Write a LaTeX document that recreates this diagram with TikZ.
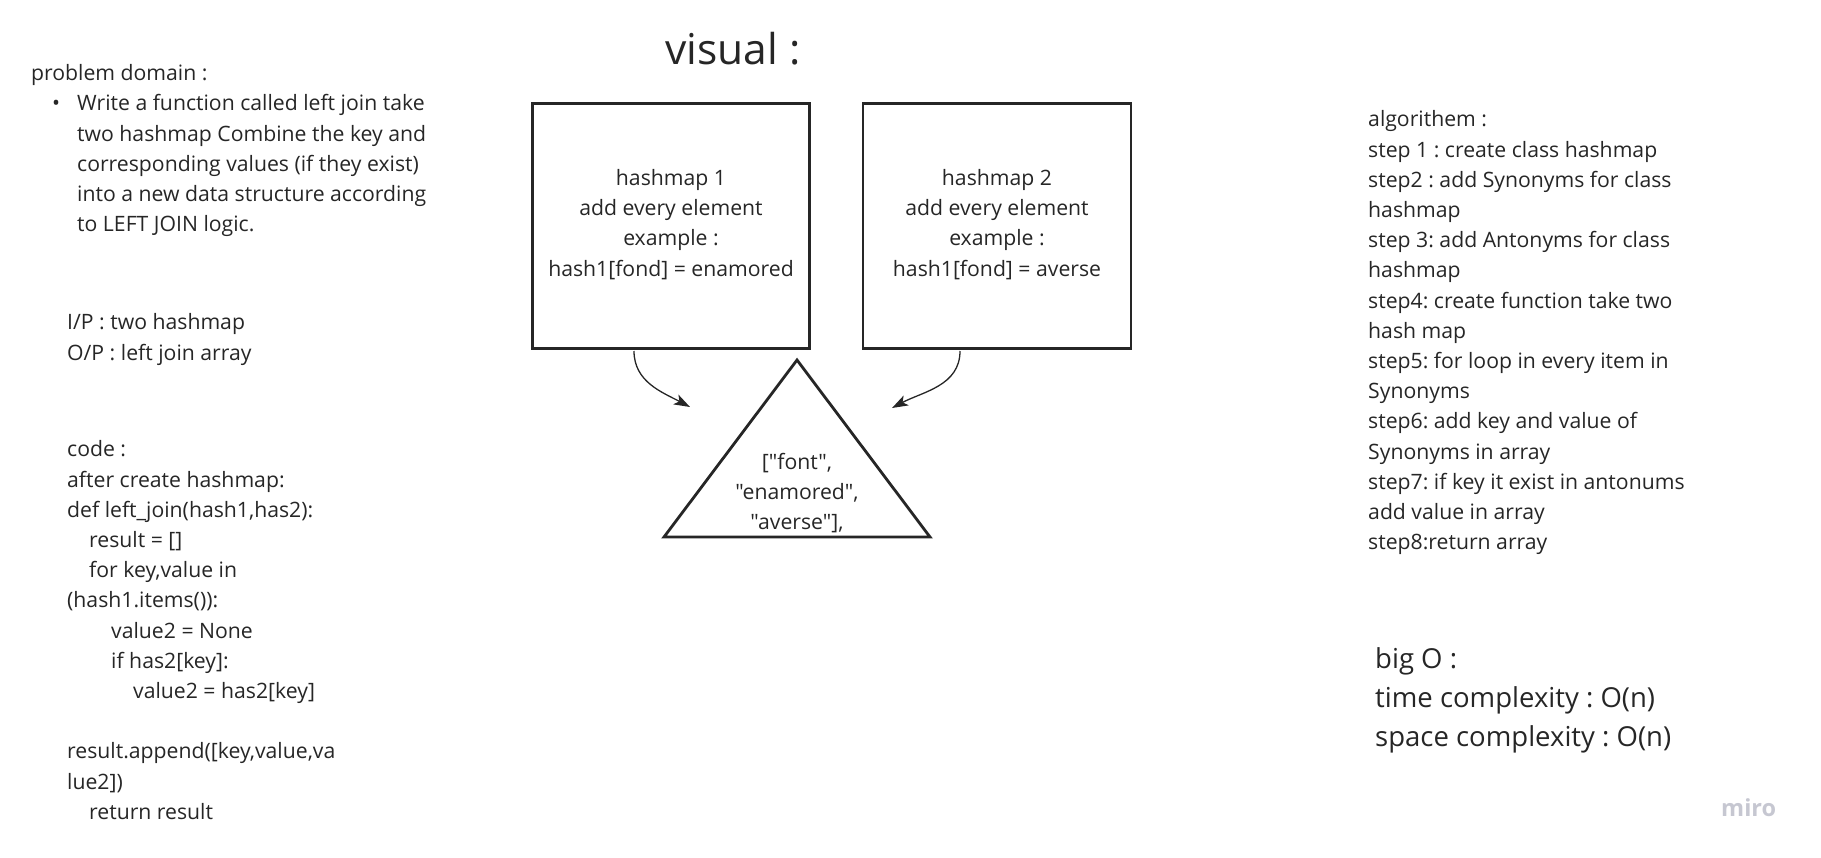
\documentclass[tikz,border=0pt]{standalone}
\usepackage{fontspec}
\setmainfont{Open Sans}
\newfontfamily\plainos{Open Sans}
\usetikzlibrary{arrows.meta}
\definecolor{ink}{HTML}{262626}
\definecolor{logo}{HTML}{C6C7D1}
\frenchspacing
\begin{document}
\begin{tikzpicture}[x=1pt,y=-1pt,
  txt/.style={text=ink,inner sep=0pt,align=left,anchor=north west,font=\fontsize{21.2}{30.2}\selectfont},
  big/.style={text=ink,inner sep=0pt,align=left,anchor=north west,font=\fontsize{27.5}{39}\selectfont},
  hbox/.style={draw=ink,line width=2.8pt,minimum width=#1,minimum height=245pt,inner sep=0pt},
  inbox/.style={text=ink,inner sep=0pt,align=center,font=\fontsize{21.2}{30.2}\selectfont},
  arr/.style={draw=ink,line width=1.3pt,-{Stealth[length=16pt,width=11pt,inset=4pt]}}
]
\useasboundingbox (0,0) rectangle (1821,857);
% left column
\node[txt] (pd) at (31,64.5) {problem domain :};
\node[txt,anchor=center] (bul) at (56,105) {•};
\node[txt] (pdtext) at (77,94.5) {Write a function called left join take\\two hashmap Combine the key and\\corresponding values (if they exist)\\into a new data structure according\\to LEFT JOIN logic.};
\node[txt] (io) at (67,313.5) {I/P : two hashmap\\O/P : left join array};
\node[txt] (code) at (67,440.5) {code :\\after create hashmap:\\def left\_join(hash1,has2):\\\hspace*{22pt}result = []\\\hspace*{22pt}for key,value in\\(hash1.items()):\\\hspace*{44pt}value2 = None\\\hspace*{44pt}if has2[key]:\\\hspace*{66pt}value2 = has2[key]\\[30.2pt]result.append([key,value,va\\lue2])\\\hspace*{22pt}return result};
% title
\node[text=ink,inner sep=0pt,anchor=west,font=\fontsize{42.5}{48}\selectfont] (title) at (665,49) {visual :};
% boxes
\node[hbox=277pt] (box1) at (671,226) {};
\node[hbox=268pt] (box2) at (997,226) {};
\node[inbox] (t1) at (671,224.5) {hashmap 1\\add every element\\example :\\hash1[fond] = enamored};
\node[inbox] (t2) at (997,224.5) {hashmap 2\\add every element\\example :\\hash1[fond] = averse};
% triangle
\coordinate (tA) at (797,360);
\coordinate (tB) at (664,537);
\coordinate (tC) at (930,537);
\draw[draw=ink,line width=2.8pt,line join=miter] (tA) -- (tB) -- (tC) -- cycle;
\node[inbox,font=\plainos\fontsize{21.2}{30.2}\selectfont] (tri) at (797,493) {["font",\\"enamored",\\"averse"],};
% arrows
\coordinate (s1) at (634,351);
\coordinate (e1) at (690,407);
\coordinate (s2) at (960,351);
\coordinate (e2) at (892,408);
\draw[arr] (s1) to[out=-90,in=152] (e1);
\draw[arr] (s2) to[out=-90,in=28] (e2);
% right column
\node[txt] (alg) at (1368,110.5) {algorithem :\\step 1 : create class hashmap\\step2 : add Synonyms for class\\hashmap\\step 3: add Antonyms for class\\hashmap\\step4: create function take two\\hash map\\step5: for loop in every item in\\Synonyms\\step6: add key and value of\\Synonyms in array\\step7: if key it exist in antonums\\add value in array\\step8:return array};
\node[big] (bigo) at (1375,647.5) {big O :\\time complexity : O(n)\\space complexity : O(n)};
\node[text=logo,inner sep=0pt,anchor=west,font=\fontsize{23.5}{28}\selectfont\bfseries] (miro) at (1721,808) {miro};
\end{tikzpicture}
\end{document}
